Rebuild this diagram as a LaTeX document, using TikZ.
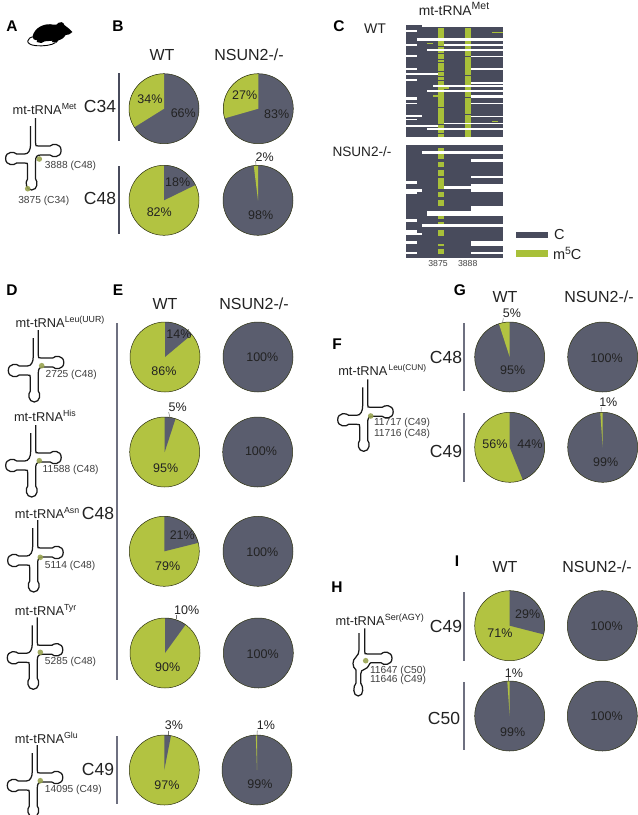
\documentclass[tikz,border=0pt]{standalone}
\usepackage{fontspec}
\setmainfont{Liberation Sans}
\definecolor{pgrey}{HTML}{5A5D6E}
\definecolor{pgreen}{HTML}{B2C341}
\definecolor{hdark}{HTML}{484B5C}
\definecolor{hgreen}{HTML}{A8C039}
\definecolor{barc}{HTML}{6E7080}
\definecolor{txt}{HTML}{222222}
\tikzset{
  every node/.style={inner sep=0pt,outer sep=0pt,text=txt},
  pct/.style={font=\fontsize{12.5}{14}\selectfont,anchor=center},
  ttl/.style={font=\fontsize{16}{18}\selectfont,anchor=center},
  cname/.style={font=\fontsize{17.5}{20}\selectfont,anchor=center},
  cnamer/.style={font=\fontsize{17.5}{20}\selectfont,anchor=east},
  panel/.style={font=\fontsize{15.5}{18}\bfseries\selectfont,anchor=center,text=black},
  trn/.style={font=\fontsize{12.8}{14}\selectfont,anchor=base west},
  num/.style={font=\fontsize{10.2}{12}\selectfont,anchor=base west,text=black!75},
  bar/.style={draw=barc,line width=1.8pt},
  darkbar/.style={draw=hdark,line width=1.3pt},
  leader/.style={draw=black!55,line width=0.5pt},
  strand/.style={draw=black!90,line width=1.25pt},
  marker/.style={fill=pgreen!75!black!85,draw=none,opacity=0.9},
  white row/.style={fill=white,draw=none},
}
\newcommand{\sps}[1]{\raisebox{5pt}{\fontsize{8.8}{10}\selectfont #1}}
% pie: x, y, base colour, slice colour, from angle, to angle
\newcommand{\PieC}[6]{%
  \fill[#3] (#1,#2) circle[radius=35pt];
  \fill[#4] (#1,#2) -- plot[domain=#5:#6,samples=40] ({#1+35*cos(\x)},{#2-35*sin(\x)}) -- cycle;
  \draw[black!75!pgreen,line width=0.5pt] (#1,#2) circle[radius=35pt];
}
% tRNA cloverleaf, origin = top of the long strand
\newcommand{\Clover}[2]{%
  \begin{scope}[shift={(#1,#2)}]
  \draw[strand] (0,0) -- (0,25) .. controls (0,28) .. (3,28) -- (14.5,28)
     .. controls (16.5,25.5) and (25.5,25) .. (25.5,32.5)
     .. controls (25.5,40) and (16.5,39.5) .. (14.5,37)
     -- (5,37) .. controls (1,37) and (0,39) .. (0,43) -- (0,61)
     .. controls (2.5,63.5) and (2,72) .. (-4,72)
     .. controls (-10,72) and (-10.5,63.5) .. (-8,61)
     -- (-8,48) .. controls (-8,45) .. (-11,45) -- (-19,45)
     .. controls (-21,47.5) and (-30,48) .. (-30,40.5)
     .. controls (-30,33) and (-21,33.5) .. (-19,36)
     -- (-11,36) .. controls (-7,36) and (-5,32) .. (-5,26) -- (-5,8);
  \end{scope}
}
\newcommand{\Mark}[2]{\fill[marker] (#1,#2) circle[radius=2.8pt];}
\begin{document}
\begin{tikzpicture}[x=1pt,y=-1pt]
\useasboundingbox (0,0) rectangle (638,815);
\fill[white] (0,0) rectangle (638,815);

% ---------- panel letters
\node[panel] (pA) at (12,26) {A};
\node[panel] (pB) at (118,26) {B};
\node[panel] (pC) at (339,26) {C};
\node[panel] (pD) at (12,290) {D};
\node[panel] (pE) at (118,290) {E};
\node[panel] (pF) at (337,344) {F};
\node[panel] (pG) at (460,290) {G};
\node[panel] (pH) at (337,587) {H};
\node[panel] (pI) at (457,561) {I};

% ---------- mouse
\begin{scope}[x=0.3333pt,y=-0.3333pt]
  \fill[black] (98,108) .. controls (104,82) and (135,68) .. (160,74)
     .. controls (168,76) and (172,74) .. (176,68) .. controls (180,64) and (191,66) .. (193,75)
     .. controls (200,81) and (210,87) .. (217,96) .. controls (212,103) and (204,105) .. (197,105)
     .. controls (191,115) and (182,120) .. (174,122) -- (170,128) -- (156,126) -- (158,122)
     -- (134,124) -- (124,129) -- (110,126) -- (112,121) .. controls (102,120) and (96,116) .. (98,108) -- cycle;
  \draw[black,line width=0.9pt] (102,110) .. controls (80,112) and (72,134) .. (108,137)
     .. controls (130,139) and (155,136) .. (166,128);
\end{scope}

% ---------- tRNA A
\node[trn] (lA) at (12.7,114) {mt-tRNA\sps{Met}};
\Clover{35.6}{118}
\Mark{39.3}{159}\Mark{27.7}{188.7}
\node[num] (nA1) at (45,168.7) {3888 (C48)};
\node[num] (nA2) at (18.3,203) {3875 (C34)};

% ---------- panel B
\node[ttl] (tB1) at (162,55) {WT};
\node[ttl] (tB2) at (249,55) {NSUN2-/-};
\node[cname] (c34) at (100,106) {C34};
\node[cname] (c48a) at (100,198) {C48};
\coordinate (bb1) at (119,73); \coordinate (bb2) at (119,141);
\coordinate (bb3) at (119,166); \coordinate (bb4) at (119,234);
\draw[darkbar] (bb1) -- (bb2); \draw[darkbar] (bb3) -- (bb4);
\PieC{164}{108.7}{pgrey}{pgreen}{90}{212}
\PieC{258.3}{108.7}{pgrey}{pgreen}{90}{196}
\PieC{164}{200.3}{pgreen}{pgrey}{90}{26}
\PieC{258}{200.3}{pgrey}{pgreen}{90}{97}
\node[pct] (b1) at (150,99) {34\%};
\node[pct] (b2) at (183.3,113.3) {66\%};
\node[pct] (b3) at (244.7,95) {27\%};
\node[pct] (b4) at (276.7,113.7) {83\%};
\node[pct] (b5) at (177.7,181.7) {18\%};
\node[pct] (b6) at (159.3,212.3) {82\%};
\node[pct] (b7) at (264.7,156.7) {2\%};
\node[pct] (b8) at (260.7,215.3) {98\%};
\coordinate (lb) at (256,166); \draw[leader] (b7.south west) -- (lb);

% ---------- panel C heat map
\begin{scope}[x=0.3333pt,y=-0.3333pt,shift={(990,0)}]
  \fill[hdark] (228,76) rectangle (520,410);
  \fill[hgreen] (325,84) rectangle (342,410);
  \fill[hgreen] (406,84) rectangle (423,410);
  \foreach \ya/\yb in {139/142,160/163,176/179,186/189,214/217,228/231,240/243,320/323,372/376,400/403}
    \fill[hdark] (325,\ya) rectangle (342,\yb);
  \foreach \ya/\yb in {168/171,226/229,290/293,342/345}
    \fill[hdark] (406,\ya) rectangle (423,\yb);
  \fill[hgreen] (487,95) rectangle (520,100);
  \fill[hgreen] (292,128) rectangle (308,132);
  \fill[hgreen] (342,262) rectangle (358,266);
  \fill[hgreen] (308,286) rectangle (325,290);
  \fill[hgreen] (487,362) rectangle (505,367);
  \foreach \xa/\xb/\ya/\yb in {
    276/520/76/80, 228/260/90/95, 260/520/113/124, 228/260/133/137, 342/520/133/139,
    292/520/147/152, 228/260/166/170, 423/520/167/170, 228/260/205/210, 423/520/205/210,
    228/325/219/224, 228/260/237/242, 423/520/247/252, 308/520/256/261, 292/520/270/275,
    423/520/285/294, 228/260/290/300, 228/260/309/313, 423/520/309/313, 423/520/347/351,
    228/276/346/350, 228/260/356/360, 228/325/376/380, 342/520/368/372, 292/520/384/389}
    \fill[white row] (\xa,\ya) rectangle (\xb,\yb);
\end{scope}
\begin{scope}[x=0.3333pt,y=-0.3333pt,shift={(990,405)}]
  \fill[hdark] (228,30) rectangle (520,368);
  \foreach \ya/\yb in {40/72,80/96,106/122,130/162,172/186,196/212,244/252,260/268,286/302,326/334,342/358}
    \fill[hgreen] (325,\ya) rectangle (342,\yb);
  \foreach \xa/\xb/\ya/\yb in {
    276/520/48/56, 423/520/72/80, 423/520/122/130, 228/260/138/146, 342/520/154/162,
    423/520/146/170, 228/276/162/170, 228/260/170/178, 423/520/212/228, 292/520/228/244,
    228/260/252/260, 276/520/268/276, 228/260/285/295, 228/276/294/300, 228/260/318/326,
    423/520/318/334, 423/520/350/358, 228/260/350/358}
    \fill[white row] (\xa,\ya) rectangle (\xb,\yb);
\end{scope}
\node[font=\fontsize{13.8}{16}\selectfont,anchor=center] (tC) at (454,9) {mt-tRNA\raisebox{5.5pt}{\fontsize{10.5}{12}\selectfont Met}};
\node[font=\fontsize{14}{16}\selectfont,anchor=center] (wC) at (375,29) {WT};
\node[font=\fontsize{13.6}{16}\selectfont,anchor=center] (kC) at (362,152) {NSUN2-/-};
\node[font=\fontsize{8.7}{10}\selectfont,anchor=center,text=black!75] (x1) at (438,263) {3875};
\node[font=\fontsize{8.7}{10}\selectfont,anchor=center,text=black!75] (x2) at (467.7,263) {3888};
\fill[hdark] (515.7,231.7) rectangle (548.3,238.3);
\fill[hgreen] (515.7,249.7) rectangle (548.3,256.7);
\node[font=\fontsize{14.5}{16}\selectfont,anchor=west] (lgC) at (554,235) {C};
\node[font=\fontsize{14.5}{16}\selectfont,anchor=west] (lgM) at (553,253) {m\raisebox{5pt}{\fontsize{10.5}{12}\selectfont 5}C};

% ---------- panel D
\node[trn] (lD1) at (15.7,327.7) {mt-tRNA\sps{Leu(UUR)}};
\Clover{38.3}{330}\Mark{41.7}{365.7}
\node[num] (nD1) at (45.7,377) {2725 (C48)};
\node[trn] (lD2) at (14,421.7) {mt-tRNA\sps{His}};
\Clover{35.7}{425}\Mark{39.3}{460.7}
\node[num] (nD2) at (42.7,472.7) {11588 (C48)};
\node[trn] (lD3) at (15,518.3) {mt-tRNA\sps{Asn}};
\Clover{37.7}{520}\Mark{40.3}{557.3}
\node[num] (nD3) at (45,568.3) {5114 (C48)};
\node[trn] (lD4) at (15,615) {mt-tRNA\sps{Tyr}};
\Clover{37.3}{617.3}\Mark{40.3}{652.3}
\node[num] (nD4) at (45,664.3) {5285 (C48)};
\node[trn] (lD5) at (15,743) {mt-tRNA\sps{Glu}};
\Clover{37.3}{745}\Mark{40.3}{780.7}
\node[num] (nD5) at (45,792.3) {14095 (C49)};

% ---------- panel E
\node[ttl] (tE1) at (165,304) {WT};
\node[ttl] (tE2) at (254,304) {NSUN2-/-};
\node[cname] (c48b) at (98,513) {C48};
\node[cname] (c49a) at (98,769) {C49};
\coordinate (be1) at (116.7,323); \coordinate (be2) at (116.7,680);
\coordinate (be3) at (116.7,736); \coordinate (be4) at (116.7,804);
\draw[bar] (be1) -- (be2); \draw[bar] (be3) -- (be4);
\PieC{165}{357}{pgreen}{pgrey}{90}{40}
\PieC{258}{357}{pgrey}{pgrey}{90}{89}
\PieC{164.7}{452}{pgreen}{pgrey}{90}{72}
\PieC{257.7}{452}{pgrey}{pgrey}{90}{89}
\PieC{164.3}{551.3}{pgreen}{pgrey}{90}{14}
\PieC{258}{551.3}{pgrey}{pgrey}{90}{89}
\PieC{165}{653}{pgreen}{pgrey}{90}{54}
\PieC{258.3}{653}{pgrey}{pgrey}{90}{89}
\PieC{164.3}{770}{pgreen}{pgrey}{90}{79}
\PieC{257}{770}{pgrey}{pgreen}{90}{92}
\node[pct] (e1) at (179,334.3) {14\%};
\node[pct] (e2) at (164,370.7) {86\%};
\node[pct] (e3) at (262.3,357) {100\%};
\node[pct] (e4) at (177.7,407.7) {5\%};
\node[pct] (e5) at (165.7,467.7) {95\%};
\node[pct] (e6) at (261,451.3) {100\%};
\node[pct] (e7) at (182.3,535) {21\%};
\node[pct] (e8) at (167.7,566) {79\%};
\node[pct] (e9) at (262.3,551.7) {100\%};
\node[pct] (e10) at (186.7,610) {10\%};
\node[pct] (e11) at (167.7,666.7) {90\%};
\node[pct] (e12) at (262.7,654) {100\%};
\node[pct] (e13) at (174,725) {3\%};
\node[pct] (e14) at (167,785) {97\%};
\node[pct] (e15) at (266,725) {1\%};
\node[pct] (e16) at (260,784.3) {99\%};
\coordinate (le4) at (170,418); \draw[leader] (e4.south west) -- (le4);
\coordinate (le10) at (176,618.7); \draw[leader] (176,615) -- (le10);
\coordinate (le13) at (168.3,735); \draw[leader] (168.3,730.7) -- (le13);
\coordinate (le15) at (257,735); \draw[leader] (257.3,730.7) -- (le15);

% ---------- panel F
\node[trn] (lF) at (338.3,375) {mt-tRNA\raisebox{5pt}{\fontsize{8.3}{10}\selectfont\,Leu(CUN)}};
\Clover{367.7}{379.3}\Mark{370.7}{416}
\node[num] (nF1) at (374,425.7) {11717 (C49)};
\node[num] (nF2) at (374,436) {11716 (C48)};

% ---------- panel G
\node[ttl] (tG1) at (505,297) {WT};
\node[ttl] (tG2) at (599,297) {NSUN2-/-};
\node[cnamer] (c48c) at (462,357) {C48};
\node[cnamer] (c49b) at (462,451) {C49};
\coordinate (bg1) at (464,323); \coordinate (bg2) at (464,391);
\coordinate (bg3) at (464,413); \coordinate (bg4) at (464,482);
\draw[bar] (bg1) -- (bg2); \draw[bar] (bg3) -- (bg4);
\PieC{509.7}{357}{pgrey}{pgreen}{90}{108}
\PieC{602.7}{357}{pgrey}{pgrey}{90}{89}
\PieC{509.7}{447.3}{pgreen}{pgrey}{90}{-68}
\PieC{602.7}{447.3}{pgrey}{pgreen}{90}{94}
\node[pct] (g1) at (512,313.3) {5\%};
\node[pct] (g2) at (512.7,370) {95\%};
\node[pct] (g3) at (606.7,358.3) {100\%};
\node[pct] (g4) at (495,444.3) {56\%};
\node[pct] (g5) at (530,444.3) {44\%};
\node[pct] (g6) at (608.3,402.3) {1\%};
\node[pct] (g7) at (605.7,461.7) {99\%};
\coordinate (lg1) at (502.7,322); \draw[leader] (503.3,318.3) -- (lg1);
\coordinate (lg6) at (601,411.7); \draw[leader] (601.3,407.3) -- (lg6);

% ---------- panel H
\node[trn] (lH) at (335.7,625) {mt-tRNA\raisebox{5pt}{\fontsize{9}{10}\selectfont Ser(AGY)}};
\draw[strand] (364.7,628.3) -- (364.7,651) .. controls (364.7,654) .. (367.7,654) -- (381,654)
   .. controls (383,651) and (392,651) .. (392,658.3)
   .. controls (392,665.5) and (383,665.5) .. (381,662.7)
   -- (371,662.7) .. controls (369,662.7) and (369,668) .. (365,669)
   .. controls (362,670) and (360.7,671) .. (360.7,674) -- (360.7,683)
   .. controls (363.5,686) and (364,696) .. (358.3,696)
   .. controls (352.5,696) and (353,686) .. (356,683)
   -- (356,670) .. controls (352,667) and (352,660) .. (356,657)
   .. controls (358,655) and (359,653) .. (359,650) -- (359,633);
\Mark{365.7}{660.7}
\node[num] (nH1) at (370,673.3) {11647 (C50)};
\node[num] (nH2) at (370,682.7) {11646 (C49)};

% ---------- panel I
\node[ttl] (tI1) at (505,567) {WT};
\node[ttl] (tI2) at (597,567) {NSUN2-/-};
\node[cnamer] (c49c) at (462,626) {C49};
\node[cnamer] (c50) at (460,718) {C50};
\coordinate (bi1) at (464,592); \coordinate (bi2) at (464,661);
\coordinate (bi3) at (464,682); \coordinate (bi4) at (464,750);
\draw[bar] (bi1) -- (bi2); \draw[bar] (bi3) -- (bi4);
\PieC{509.7}{625.7}{pgreen}{pgrey}{90}{-14.4}
\PieC{602.3}{625.7}{pgrey}{pgrey}{90}{89}
\PieC{509.7}{716}{pgrey}{pgreen}{90}{94}
\PieC{602.3}{716}{pgrey}{pgrey}{90}{89}
\node[pct] (i1) at (527.7,614) {29\%};
\node[pct] (i2) at (500,632.7) {71\%};
\node[pct] (i3) at (606.7,626) {100\%};
\node[pct] (i4) at (514,672.7) {1\%};
\node[pct] (i5) at (512.7,731.7) {99\%};
\node[pct] (i6) at (606.7,715.7) {100\%};
\coordinate (li4) at (508.3,681.3); \draw[leader] (508.3,677.3) -- (li4);
\end{tikzpicture}
\end{document}
